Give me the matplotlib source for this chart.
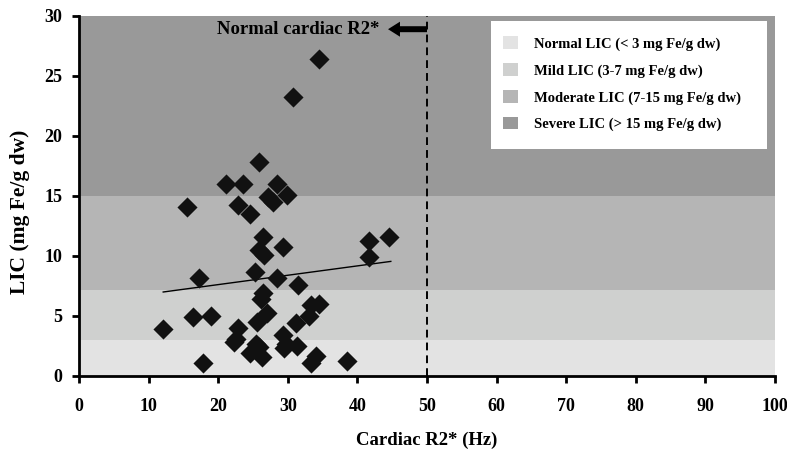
import matplotlib.pyplot as plt
from matplotlib.patches import Patch, Rectangle

plt.rcParams['font.family'] = ['Liberation Serif', 'DejaVu Serif']
plt.rcParams['font.weight'] = 'bold'

# cardiac R2* (Hz) vs LIC (mg Fe/g dw)
r2 = [12.1, 15.5, 16.4, 17.3, 17.8, 19.0, 21.1, 22.8, 23.6, 22.3,
      22.5, 22.9, 24.5, 24.6, 25.9, 25.3, 25.8, 26.6, 26.5, 26.4,
      26.1, 25.6, 25.5, 25.9, 26.3, 27.0, 27.1, 27.9, 28.4, 28.5,
      29.3, 29.9, 29.3, 29.4, 29.7, 30.8, 31.2, 31.3, 31.5, 33.0,
      33.4, 34.5, 34.5, 33.4, 34.0, 38.5, 41.6, 41.7, 44.6]
lic = [3.9, 14.1, 4.9, 8.2, 1.1, 5.0, 16.0, 14.25, 16.0, 2.8,
       3.1, 4.0, 13.5, 1.9, 17.8, 8.7, 10.5, 10.1, 11.6, 6.9,
       6.4, 4.5, 2.7, 2.4, 1.6, 5.25, 14.9, 14.5, 16.0, 8.2,
       10.75, 15.1, 3.45, 2.3, 2.7, 23.25, 4.4, 2.5, 7.6, 5.0,
       5.9, 6.0, 26.4, 1.1, 1.7, 1.25, 9.9, 11.25, 11.6]

trend_x = [12.1, 44.8]
trend_y = [7.0, 9.55]

band_edges = [0, 3, 7.2, 15, 30]
band_colors = ['#e3e3e3', '#cfd0cf', '#b5b5b5', '#999999']
band_labels = ['Normal LIC (< 3 mg Fe/g dw)', 'Mild LIC (3-7 mg Fe/g dw)',
               'Moderate LIC (7-15 mg Fe/g dw)', 'Severe LIC (> 15 mg Fe/g dw)']

normal_r2 = 50

W, H = 787, 449
fig = plt.figure(figsize=(W / 100, H / 100), dpi=100)
ax = fig.add_axes([79 / W, 1 - 376 / H, 696 / W, 360 / H])

for i in range(len(band_colors)):
    ax.axhspan(band_edges[i], band_edges[i + 1], color=band_colors[i], lw=0, zorder=0)

ax.scatter(r2, lic, marker='D', s=105, color='#111111', zorder=3, linewidths=0)
ax.plot(trend_x, trend_y, color='black', lw=1, zorder=2)

# normal cardiac R2* cut-off
ax.plot([normal_r2, normal_r2], [0, 30], color='black', ls=(0, (4, 2.6)), lw=1.4, zorder=2)
ax.annotate('', xy=(44.4, 28.9), xytext=(50, 28.9),
            arrowprops=dict(arrowstyle='simple,head_length=0.86,head_width=1.08,tail_width=0.43',
                            color='black', lw=0, shrinkA=0, shrinkB=0))
ax.text(43.2, 28.9, 'Normal cardiac R2*', ha='right', va='center', fontsize=13.5,
        fontweight='bold')

ax.set_xlim(0, 100)
ax.set_ylim(0, 30)
ax.set_xticks(range(0, 101, 10))
ax.set_yticks(range(0, 31, 5))
for s in ['top', 'right']:
    ax.spines[s].set_visible(False)
for s in ['left', 'bottom']:
    ax.spines[s].set_linewidth(2)
ax.tick_params(width=2, length=5, labelsize=13)
ax.tick_params(axis='x', pad=11)
ax.tick_params(axis='y', pad=7)
for lab in ax.get_xticklabels() + ax.get_yticklabels():
    lab.set_fontweight('bold')

ax.set_xlabel('Cardiac R2* (Hz)', fontsize=13.5, fontweight='bold', labelpad=12)
ax.set_ylabel('LIC (mg Fe/g dw)', fontsize=15.5, fontweight='bold')
ax.yaxis.set_label_coords(-0.071, 0.455)

# legend on a white box
fig.patches.append(Rectangle((491 / W, 1 - 149 / H), 276 / W, 128 / H,
                             transform=fig.transFigure, facecolor='white',
                             edgecolor='none', zorder=4))
handles = [Patch(facecolor=c, edgecolor='none') for c in band_colors]
leg = fig.legend(handles, band_labels, loc='upper left',
                 bbox_to_anchor=(496 / W, 1 - 29 / H), bbox_transform=fig.transFigure,
                 frameon=False, prop={'weight': 'bold', 'size': 10.5},
                 handlelength=1.0, handleheight=0.95, borderpad=0,
                 labelspacing=0.85, handletextpad=1.1)
leg.set_zorder(5)

fig.savefig('out.png', dpi=100)
